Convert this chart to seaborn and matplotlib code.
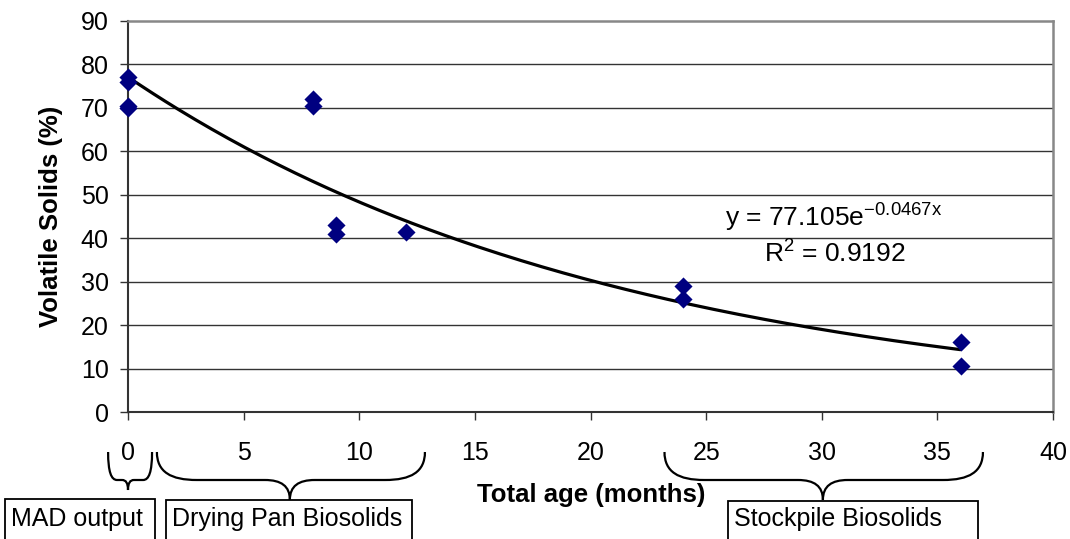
import numpy as np
import pandas as pd
import matplotlib
matplotlib.use("Agg")
import matplotlib.pyplot as plt
import seaborn as sns
from matplotlib.path import Path
from matplotlib.patches import PathPatch, Rectangle
from matplotlib.transforms import IdentityTransform

# ---- data ----
age_months = [0, 0, 0, 0, 8, 8, 9, 9, 12, 24, 24, 36, 36]
volatile_solids = [77, 76, 70.5, 70, 72, 70.5, 43, 41, 41.5, 29, 26, 16, 10.5]
trend_a = 77.105
trend_b = -0.0467
r_squared = 0.9192
x_ticks = [0, 5, 10, 15, 20, 25, 30, 35, 40]
y_ticks = [0, 10, 20, 30, 40, 50, 60, 70, 80, 90]
group_labels = ["MAD output", "Drying Pan Biosolids", "Stockpile Biosolids"]

sns.set_style("white")
plt.rcParams["font.family"] = ["Liberation Sans", "DejaVu Sans"]
plt.rcParams["mathtext.default"] = "regular"
plt.rcParams["text.color"] = "black"
plt.rcParams["axes.labelcolor"] = "black"
plt.rcParams["xtick.color"] = "black"
plt.rcParams["ytick.color"] = "black"

W, H = 1070, 539
fig = plt.figure(figsize=(W / 100, H / 100), dpi=100)
ax = fig.add_axes([128 / W, 1 - 412 / H, 925 / W, 391 / H])

df = pd.DataFrame({"age": age_months, "vs": volatile_solids})
trend_x = np.linspace(0, 36, 200)
trend_df = pd.DataFrame({"age": trend_x, "vs": trend_a * np.exp(trend_b * trend_x)})

for yv in y_ticks[1:-1]:
    ax.axhline(yv, color="#333333", lw=1.0, zorder=0)

sns.lineplot(data=trend_df, x="age", y="vs", ax=ax, color="black", lw=2.3, zorder=2)
sns.scatterplot(data=df, x="age", y="vs", ax=ax, marker="D", s=85, color="#000080",
                edgecolor="#000080", linewidth=0, zorder=3, clip_on=False)

ax.set_xlim(0, 40)
ax.set_ylim(0, 90)
ax.set_xticks(x_ticks)
ax.set_yticks(y_ticks)
ax.set_xticklabels([str(t) for t in x_ticks])
ax.set_yticklabels([str(t) for t in y_ticks])
ax.tick_params(axis="x", direction="out", length=6, width=1, color="#333333",
               labelcolor="black", pad=15, labelsize=18, bottom=True)
ax.tick_params(axis="y", direction="out", length=6, width=1, color="#333333",
               labelcolor="black", pad=8, labelsize=18, left=True)
ax.grid(False)

for side in ["left", "bottom"]:
    ax.spines[side].set_color("#333333")
    ax.spines[side].set_linewidth(1.5)
for side in ["top", "right"]:
    ax.spines[side].set_color("#888888")
    ax.spines[side].set_linewidth(1.8)

ax.set_xlabel("Total age (months)", fontsize=18.5, fontweight="bold", color="black")
ax.set_ylabel("Volatile Solids (%)", fontsize=18.5, fontweight="bold", color="black")
ax.xaxis.set_label_coords((591 - 128) / 925, (412 - 495) / 391)
ax.xaxis.label.set_va("center")
ax.yaxis.set_label_coords((51 - 128) / 925, 0.5)
ax.yaxis.label.set_va("center")

ax.text(834, H - 218, "y = %.3fe$^{%.4fx}$" % (trend_a, trend_b), transform=IdentityTransform(),
        fontsize=19, ha="center", va="center", color="black")
ax.text(835, H - 254, "R$^{2}$ = %.4f" % r_squared, transform=IdentityTransform(),
        fontsize=19, ha="center", va="center", color="black")

fig.canvas.draw()


def px(xdata):
    return ax.transData.transform((xdata, 0))[0]


def brace(x0, x1, xm, rx, rx2, yt=452, ym=480, yb=500):
    # pixel coords with y measured from top
    pts = [
        (x0, yt), (x0, ym - 8), (x0 + rx * 0.35, ym), (x0 + rx, ym),
        (xm - rx2, ym),
        (xm - rx2 * 0.35, ym), (xm, ym + (yb - ym) * 0.3), (xm, yb),
        (xm, ym + (yb - ym) * 0.3), (xm + rx2 * 0.35, ym), (xm + rx2, ym),
        (x1 - rx, ym),
        (x1 - rx * 0.35, ym), (x1, ym - 8), (x1, yt),
    ]
    codes = [Path.MOVETO, Path.CURVE4, Path.CURVE4, Path.CURVE4,
             Path.LINETO,
             Path.CURVE4, Path.CURVE4, Path.CURVE4,
             Path.CURVE4, Path.CURVE4, Path.CURVE4,
             Path.LINETO,
             Path.CURVE4, Path.CURVE4, Path.CURVE4]
    verts = [(x, H - y) for x, y in pts]
    fig.add_artist(PathPatch(Path(verts, codes), facecolor="none", edgecolor="black",
                             lw=1.6, transform=IdentityTransform()))


# braces: (x-range in months, tip month)
brace(px(-0.86), px(1.04), px(0), 9, 6, yb=490)
brace(px(1.25), px(12.84), px(7.0), 40, 25)
brace(px(23.2), px(36.97), px(30.05), 40, 25)

boxes = [(5, 155, 499), (166, 412, 500), (728, 978, 501)]
for (bx0, bx1, by), label in zip(boxes, group_labels):
    fig.add_artist(Rectangle((bx0, H - by - 60), bx1 - bx0, 60, facecolor="white",
                             edgecolor="black", lw=1.3, transform=IdentityTransform()))
    fig.text((bx0 + 6) / W, 1 - 519 / H, label, fontsize=18, ha="left", va="center",
             color="black")

fig.savefig("out.png", dpi=100)
